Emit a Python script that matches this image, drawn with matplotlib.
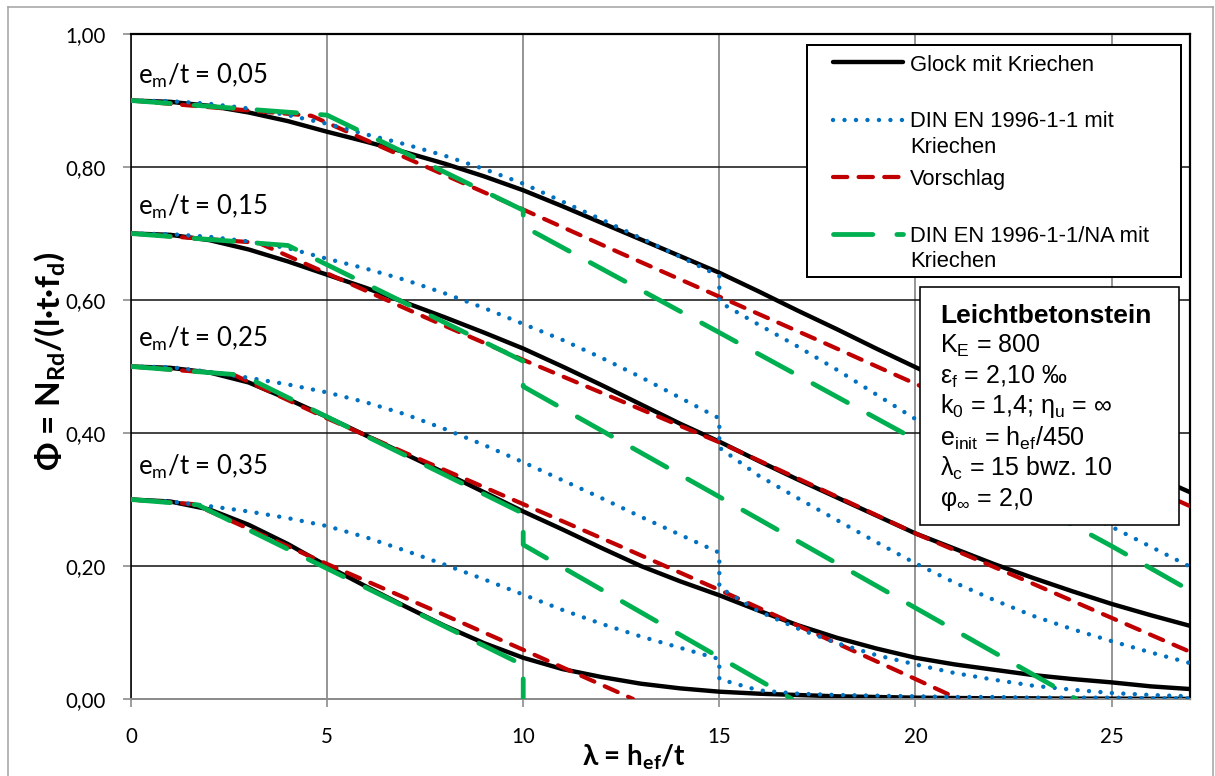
import matplotlib
matplotlib.use("Agg")
import matplotlib.pyplot as plt
from matplotlib.lines import Line2D
from matplotlib.patches import Rectangle

# ------------------------------------------------------------------ data
ecc_labels = ["0,05", "0,15", "0,25", "0,35"]
ecc_label_y = [0.925, 0.728, 0.530, 0.338]

# Glock mit Kriechen (black)
lam_glock = list(range(28))
glock_005 = [0.900, 0.898, 0.892, 0.882, 0.869, 0.853, 0.838, 0.822, 0.805, 0.786,
             0.765, 0.741, 0.716, 0.691, 0.666, 0.641, 0.613, 0.584, 0.556, 0.527,
             0.499, 0.471, 0.444, 0.417, 0.391, 0.364, 0.337, 0.311]
glock_015 = [0.700, 0.698, 0.690, 0.676, 0.658, 0.638, 0.618, 0.596, 0.574, 0.551,
             0.527, 0.500, 0.472, 0.443, 0.414, 0.387, 0.358, 0.330, 0.303, 0.276,
             0.249, 0.226, 0.203, 0.182, 0.162, 0.143, 0.126, 0.110]
glock_025 = [0.500, 0.498, 0.491, 0.476, 0.451, 0.424, 0.396, 0.368, 0.340, 0.311,
             0.282, 0.255, 0.227, 0.200, 0.177, 0.156, 0.133, 0.111, 0.092, 0.076,
             0.062, 0.052, 0.044, 0.036, 0.030, 0.025, 0.019, 0.015]
glock_035 = [0.300, 0.297, 0.285, 0.262, 0.233, 0.200, 0.169, 0.139, 0.110, 0.084,
             0.062, 0.045, 0.033, 0.023, 0.016, 0.011, 0.008, 0.006, 0.004, 0.003,
             0.002, 0.0015, 0.001, 0.001, 0.0005, 0.0005, 0.0003, 0.0002]

# DIN EN 1996-1-1 mit Kriechen (blue, step at lambda = 15)
lam_ec6 = [0, 1, 2, 3, 4, 5, 6, 7, 8, 9, 10, 11, 12, 13, 14, 15,
           15, 16, 17, 18, 19, 20, 21, 22, 23, 24, 25, 26, 27]
ec6_005 = [0.900, 0.899, 0.895, 0.888, 0.878, 0.865, 0.849, 0.834, 0.817, 0.797,
           0.775, 0.748, 0.721, 0.693, 0.665, 0.636,
           0.597, 0.563, 0.530, 0.495, 0.458, 0.421, 0.387, 0.354, 0.321, 0.290,
           0.259, 0.229, 0.199]
ec6_015 = [0.700, 0.699, 0.695, 0.688, 0.678, 0.662, 0.647, 0.630, 0.610, 0.588,
           0.564, 0.540, 0.513, 0.484, 0.453, 0.422,
           0.378, 0.336, 0.302, 0.269, 0.236, 0.204, 0.175, 0.149, 0.125, 0.105,
           0.087, 0.070, 0.054]
ec6_025 = [0.500, 0.499, 0.492, 0.483, 0.473, 0.461, 0.446, 0.428, 0.406, 0.382,
           0.356, 0.329, 0.302, 0.274, 0.247, 0.220,
           0.168, 0.132, 0.106, 0.084, 0.066, 0.052, 0.039, 0.029, 0.020, 0.014,
           0.009, 0.006, 0.004]
ec6_035 = [0.300, 0.297, 0.290, 0.282, 0.272, 0.260, 0.243, 0.223, 0.202, 0.180,
           0.157, 0.134, 0.113, 0.094, 0.077, 0.060,
           0.030, 0.013, 0.008, 0.006, 0.005, 0.004, 0.003, 0.003, 0.002, 0.002,
           0.002, 0.001, 0.001]

# Vorschlag (red)
lam_vor_005 = [0, 4.6, 7.5, 10, 12.5, 15, 17.5, 20, 22.5, 25, 27]
vor_005 = [0.900, 0.877, 0.801, 0.736, 0.670, 0.605, 0.540, 0.474, 0.409, 0.343, 0.290]
lam_vor_015 = [0, 3.25, 5, 7.5, 10, 12.5, 15, 17.5, 20, 22.5, 25, 27]
vor_015 = [0.700, 0.686, 0.640, 0.574, 0.510, 0.448, 0.386, 0.318, 0.249, 0.186, 0.122, 0.071]
lam_vor_025 = [0, 2.6, 5, 7.5, 10, 12.5, 15, 17.5, 20, 21.1]
vor_025 = [0.500, 0.488, 0.422, 0.357, 0.293, 0.229, 0.164, 0.097, 0.030, 0.0]
lam_vor_035 = [0, 1.6, 5, 7.5, 10, 12.5, 12.8]
vor_035 = [0.300, 0.293, 0.203, 0.139, 0.074, 0.008, 0.0]

# DIN EN 1996-1-1/NA mit Kriechen (green, step at lambda = 10)
lam_na_005 = [0, 5.0, 10, 10, 15, 20, 25, 27]
na_005 = [0.900, 0.878, 0.735, 0.711, 0.551, 0.390, 0.230, 0.163]
lam_na_015 = [0, 4.0, 10, 10, 15, 20, 24.1]
na_015 = [0.700, 0.682, 0.508, 0.470, 0.304, 0.137, 0.0]
lam_na_025 = [0, 2.84, 10, 10, 16.85]
na_025 = [0.500, 0.487, 0.279, 0.232, 0.0]
lam_na_035 = [0, 1.7, 10, 10]
na_035 = [0.300, 0.292, 0.051, 0.0]

xticks = [0, 5, 10, 15, 20, 25]
xtick_labels = ["0", "5", "10", "15", "20", "25"]
yticks = [0.0, 0.2, 0.4, 0.6, 0.8, 1.0]
ytick_labels = ["0,00", "0,20", "0,40", "0,60", "0,80", "1,00"]

legend_labels = ["Glock mit Kriechen", "DIN EN 1996-1-1 mit\nKriechen", "Vorschlag",
                 "DIN EN 1996-1-1/NA mit\nKriechen"]

# ------------------------------------------------------------------ style
W, H, DPI = 1215, 776, 100


def pt(px):
    return px * 72.0 / DPI


def fx(x):
    return x / W


def fy(y):
    return 1.0 - y / H


BLACK = "#000000"
BLUE = "#0070C0"
RED = "#C00000"
GREEN = "#00B050"
GRID_GRAY = "#8c8c8c"

style_black = dict(color=BLACK, lw=pt(4.4), solid_capstyle="round", zorder=2)
style_red = dict(color=RED, lw=pt(4.2), dashes=(3.4, 2.7), dash_capstyle="round", zorder=3)
style_blue = dict(color=BLUE, lw=pt(4.4), dashes=(0.01, 2.6), dash_capstyle="round", zorder=4)
style_green = dict(color=GREEN, lw=pt(4.8), dashes=(8.2, 5.0), dash_capstyle="round", zorder=5)

SANS = ["Liberation Sans", "DejaVu Sans"]
CAL = ["Lato", "DejaVu Sans"]

fig = plt.figure(figsize=(W / DPI, H / DPI), dpi=DPI)
ax = fig.add_axes([fx(131), fy(699), (1190 - 131) / W, (699 - 34) / H])

# curves
for ys in (glock_005, glock_015, glock_025, glock_035):
    ax.plot(lam_glock, ys, **style_black)
for ys in (ec6_005, ec6_015, ec6_025, ec6_035):
    ax.plot(lam_ec6, ys, **style_blue)
for xs, ys in ((lam_vor_005, vor_005), (lam_vor_015, vor_015),
               (lam_vor_025, vor_025), (lam_vor_035, vor_035)):
    ax.plot(xs, ys, **style_red)
for xs, ys in ((lam_na_005, na_005), (lam_na_015, na_015),
               (lam_na_025, na_025), (lam_na_035, na_035)):
    ax.plot(xs, ys, **style_green)

ax.set_xlim(0, 27)
ax.set_ylim(0, 1.0)
ax.set_xticks(xticks)
ax.set_xticklabels(xtick_labels)
ax.set_yticks(yticks)
ax.set_yticklabels(ytick_labels)
for lab in ax.get_xticklabels() + ax.get_yticklabels():
    lab.set_family(CAL)
    lab.set_fontsize(14.8)
ax.tick_params(axis="y", direction="out", length=6, width=1.2, color=GRID_GRAY, pad=12)
ax.tick_params(axis="x", direction="out", length=6, width=1.2, color=GRID_GRAY, pad=14)

ax.set_axisbelow(True)
ax.grid(axis="y", color="#1a1a1a", lw=pt(1.6))
ax.grid(axis="x", color=GRID_GRAY, lw=pt(1.8))

for side in ("top", "right"):
    ax.spines[side].set_color(BLACK)
    ax.spines[side].set_linewidth(pt(2.2))
ax.spines["left"].set_color(BLACK)
ax.spines["left"].set_linewidth(pt(1.6))
ax.spines["bottom"].set_color(GRID_GRAY)
ax.spines["bottom"].set_linewidth(pt(2.0))

# eccentricity labels
for lab, yv in zip(ecc_labels, ecc_label_y):
    ax.text(0.17, yv, "e$_\\mathregular{m}$/t = " + lab, family=CAL, fontsize=18.5,
            ha="left", va="baseline", zorder=6)

# axis labels
fig.text(fx(50), fy(361), "Φ = N$_\\mathregular{Rd}$/(l·t·f$_\\mathregular{d}$)",
         rotation=90, ha="center", va="center", family=CAL, fontweight="bold", fontsize=24)
fig.text(fx(634), fy(765), "λ = h$_\\mathregular{ef}$/t", ha="center", va="baseline",
         family=CAL, fontweight="bold", fontsize=20)

# outer frame
for xs, ys in (([8, 8], [7, 800]), ([8, 1213], [7, 7]), ([1213, 1213], [7, 800])):
    fig.add_artist(Line2D([fx(v) for v in xs], [fy(v) for v in ys],
                          transform=fig.transFigure, color="#a0a0a0", lw=pt(1.5)))

# legend box
fig.add_artist(Rectangle((fx(806.5), fy(276.5)), (1181 - 806.5) / W, (276.5 - 45) / H,
                         transform=fig.transFigure, facecolor="white", edgecolor=BLACK,
                         lw=pt(2.0), zorder=10))
handle_styles = [style_black, style_blue, style_red, style_green]
handle_y = [62, 120, 177, 234]
text_baselines = [[70.7], [127.3, 152.7], [185], [242.3, 267.3]]
for st, hy, lab, bls in zip(handle_styles, handle_y, legend_labels, text_baselines):
    s = dict(st)
    s["zorder"] = 11
    fig.add_artist(Line2D([fx(833), fx(903)], [fy(hy), fy(hy)],
                          transform=fig.transFigure, **s))
    for line, bl in zip(lab.split("\n"), bls):
        fig.text(fx(910), fy(bl), line, family=SANS, fontsize=15.8, ha="left",
                 va="baseline", zorder=11)

# info box
fig.add_artist(Rectangle((fx(920), fy(525)), (1179.3 - 920) / W, (525 - 287.3) / H,
                         transform=fig.transFigure, facecolor="white", edgecolor=BLACK,
                         lw=pt(1.6), zorder=10))
info_lines = ["Leichtbetonstein",
              "K$_\\mathregular{E}$ = 800",
              "ε$_\\mathregular{f}$ = 2,10 ‰",
              "k$_\\mathregular{0}$ = 1,4; η$_\\mathregular{u}$ = ∞",
              "e$_\\mathregular{init}$ = h$_\\mathregular{ef}$/450",
              "λ$_\\mathregular{c}$ = 15 bwz. 10",
              "φ$_\\mathregular{∞}$ = 2,0"]
info_baselines = [323.3, 353.3, 383.3, 412.7, 445.7, 475.7, 506]
for i, (line, bl) in enumerate(zip(info_lines, info_baselines)):
    fig.text(fx(940), fy(bl), line, family=SANS, fontsize=19 if i == 0 else 18,
             fontweight="bold" if i == 0 else "normal", ha="left", va="baseline", zorder=11)

fig.savefig("out.png", dpi=DPI)
